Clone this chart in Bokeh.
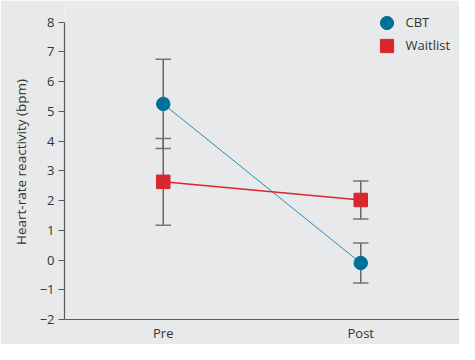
from bokeh.plotting import figure
from bokeh.models import Range1d, FixedTicker, Legend, LegendItem
from bokeh.embed import file_html
from bokeh.resources import INLINE

phases = ["Pre", "Post"]
xpos = [0, 1]
cbt_mean = [5.25, -0.1]
cbt_err = [1.5, 0.67]
wait_mean = [2.63, 2.02]
wait_err = [1.46, 0.64]
yticks = [-2, -1, 0, 1, 2, 3, 4, 5, 6, 7, 8]
ytick_labels = {-2: "\u22122", -1: "\u22121"}

BG = "#e8e9eb"
FONT = "Open Sans"

W, H = 459, 344
L, T, B = 64, 4, 19
Y8 = 22          # pixel row of the "8" tick
frame_h = H - T - B
px_per_unit = (H - B - Y8) / 10.0
y_top = 8 + (Y8 - T) / px_per_unit

p = figure(width=W, height=H, output_backend="svg", toolbar_location=None,
           x_range=Range1d(-0.5, 1.5), y_range=Range1d(-2, y_top),
           background_fill_color=BG, border_fill_color=BG,
           min_border_left=L, min_border_right=0, min_border_top=T, min_border_bottom=B)
p.outline_line_color = None
p.grid.visible = False

# axes
p.yaxis.ticker = FixedTicker(ticks=yticks)
p.yaxis.bounds = (-2, 8)
p.yaxis.major_label_overrides = {k: v for k, v in ytick_labels.items()}
p.yaxis.axis_label = "Heart-rate reactivity (bpm)"
p.xaxis.ticker = FixedTicker(ticks=xpos)
p.xaxis.major_label_overrides = {x: lab for x, lab in zip(xpos, phases)}
for ax in (p.xaxis[0], p.yaxis[0]):
    ax.axis_line_color = "#5a5a5a"
    ax.axis_line_width = 1.2
    ax.major_tick_line_color = "#5a5a5a"
    ax.minor_tick_line_color = None
    ax.major_label_text_font = FONT
    ax.major_label_text_font_size = "13px"
    ax.major_label_text_color = "#333333"
    ax.axis_label_text_font = FONT
    ax.axis_label_text_font_size = "13.5px"
    ax.axis_label_text_font_style = "normal"
    ax.axis_label_text_color = "#333333"
p.yaxis.major_tick_in = 0
p.yaxis.major_tick_out = 6
p.yaxis.major_label_standoff = 4
p.yaxis.axis_label_standoff = 7
p.xaxis.major_tick_in = 0
p.xaxis.major_tick_out = 0
p.xaxis.major_label_standoff = 4

# error bars
for means, errs in ((cbt_mean, cbt_err), (wait_mean, wait_err)):
    lo = [m - e for m, e in zip(means, errs)]
    hi = [m + e for m, e in zip(means, errs)]
    p.segment(x0=xpos, y0=lo, x1=xpos, y1=hi, line_color="#666666", line_width=1.5)
    p.dash(x=xpos, y=lo, size=15.5, line_color="#777777", line_width=1.5)
    p.dash(x=xpos, y=hi, size=15.5, line_color="#777777", line_width=1.5)

# lines
p.line(xpos, cbt_mean, line_color="#2b8cb8", line_width=1)
p.line(xpos, wait_mean, line_color="#d9262e", line_width=1.5)

# markers
r_cbt = p.scatter(xpos, cbt_mean, marker="circle", size=13.5, fill_color="#00709b",
                  line_color="#00709b")
r_wait = p.scatter(xpos, wait_mean, marker="square", size=13.5, fill_color="#d9272e",
                   line_color="#d9272e")

# legends (marker size in a legend = 0.4 * glyph box); one per item
GB = 33
for label, rend, cy in (("CBT", r_cbt, 28), ("Waitlist", r_wait, 51)):
    top = cy - GB / 2
    left = 386 - GB / 2
    leg = Legend(items=[LegendItem(label=label, renderers=[rend])],
                 location=(left - L, frame_h - (top - T) - GB),
                 background_fill_alpha=0, border_line_color=None,
                 label_text_font=FONT, label_text_font_size="13px",
                 label_text_color="#333333", glyph_width=GB, glyph_height=GB,
                 label_height=GB, spacing=0, label_standoff=3, margin=0, padding=0)
    p.add_layout(leg)

html = file_html(p, INLINE)
html = html.replace("<body>", '<body style="background:%s">' % BG, 1)
open("out.html", "w").write(html)
